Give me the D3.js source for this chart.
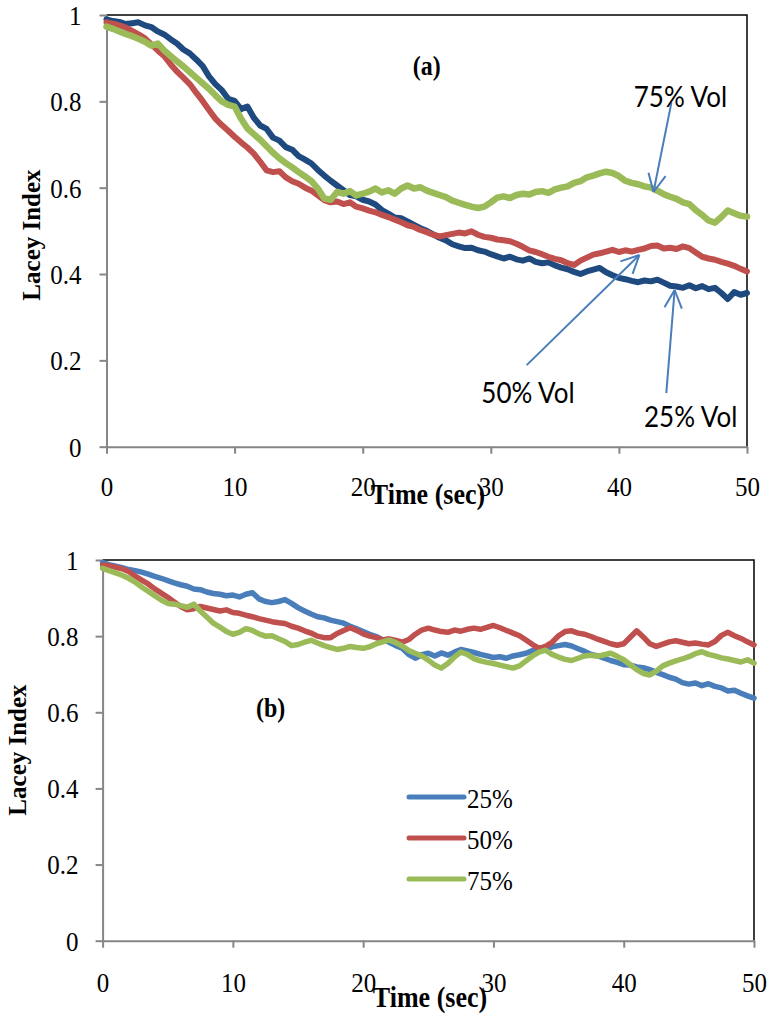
<!DOCTYPE html>
<html>
<head>
<meta charset="utf-8">
<script src="https://cdn.jsdelivr.net/npm/d3@7"></script>
<style>
body { margin: 0; background: #fff; }
</style>
</head>
<body>
<script>
// sample times, every 0.5 sec from 0 to 50
var times = d3.range(101).map(function(i){ return i * 0.5; });
var xTicks = [0, 10, 20, 30, 40, 50];
var yTicks = [0, 0.2, 0.4, 0.6, 0.8, 1];
var yTickLabels = ['0', '0.2', '0.4', '0.6', '0.8', '1'];
var seriesNames = ['25%', '50%', '75%'];

// panel (a)
var a25 = [0.990,0.986,0.984,0.979,0.981,0.983,0.976,0.972,0.962,0.955,0.944,0.934,0.920,0.911,0.897,0.882,0.858,0.840,0.826,0.806,
  0.801,0.782,0.788,0.762,0.744,0.736,0.716,0.709,0.694,0.688,0.673,0.665,0.656,0.641,0.628,0.616,0.605,0.594,0.583,0.580,
  0.572,0.568,0.561,0.548,0.540,0.531,0.529,0.522,0.514,0.506,0.500,0.492,0.484,0.478,0.469,0.464,0.460,0.461,0.455,0.452,
  0.446,0.441,0.436,0.440,0.434,0.431,0.436,0.428,0.425,0.427,0.420,0.415,0.411,0.405,0.400,0.406,0.410,0.414,0.404,0.397,
  0.391,0.388,0.384,0.381,0.385,0.383,0.387,0.380,0.373,0.371,0.368,0.374,0.367,0.372,0.365,0.368,0.356,0.342,0.358,0.352,0.356];
var a50 = [0.983,0.980,0.976,0.971,0.963,0.955,0.946,0.932,0.918,0.905,0.886,0.869,0.855,0.840,0.820,0.801,0.780,0.760,0.745,0.732,
  0.718,0.705,0.693,0.679,0.660,0.640,0.636,0.638,0.624,0.615,0.609,0.600,0.593,0.582,0.571,0.566,0.568,0.562,0.566,0.556,
  0.552,0.547,0.543,0.537,0.532,0.526,0.520,0.513,0.509,0.502,0.497,0.491,0.487,0.490,0.493,0.496,0.494,0.499,0.491,0.486,
  0.484,0.480,0.478,0.476,0.470,0.463,0.455,0.451,0.446,0.440,0.435,0.432,0.425,0.421,0.431,0.438,0.445,0.448,0.452,0.456,
  0.451,0.455,0.452,0.456,0.459,0.465,0.466,0.459,0.461,0.458,0.464,0.460,0.450,0.440,0.436,0.433,0.428,0.424,0.419,0.412,0.406];
var a75 = [0.973,0.968,0.962,0.956,0.951,0.945,0.938,0.929,0.934,0.918,0.905,0.893,0.881,0.868,0.855,0.842,0.829,0.814,0.800,0.792,
  0.788,0.760,0.737,0.724,0.711,0.696,0.681,0.668,0.657,0.647,0.636,0.626,0.615,0.598,0.575,0.572,0.590,0.586,0.592,0.582,
  0.586,0.591,0.598,0.589,0.594,0.586,0.598,0.605,0.598,0.601,0.593,0.588,0.583,0.578,0.570,0.565,0.560,0.556,0.553,0.556,
  0.566,0.577,0.580,0.576,0.583,0.586,0.584,0.590,0.592,0.588,0.596,0.600,0.603,0.611,0.615,0.624,0.628,0.633,0.637,0.634,
  0.627,0.616,0.611,0.608,0.603,0.600,0.593,0.585,0.579,0.574,0.566,0.562,0.548,0.537,0.524,0.519,0.532,0.547,0.541,0.535,0.533];

// panel (b)
var b25 = [0.993,0.988,0.984,0.980,0.975,0.972,0.968,0.963,0.957,0.952,0.946,0.940,0.935,0.931,0.924,0.922,0.916,0.912,0.910,0.906,
  0.908,0.903,0.910,0.914,0.898,0.891,0.888,0.891,0.896,0.886,0.875,0.866,0.858,0.851,0.848,0.842,0.838,0.834,0.826,0.819,
  0.812,0.805,0.799,0.790,0.784,0.775,0.768,0.752,0.742,0.751,0.755,0.748,0.756,0.750,0.758,0.765,0.761,0.757,0.752,0.748,
  0.744,0.746,0.742,0.748,0.751,0.755,0.762,0.768,0.766,0.772,0.775,0.778,0.774,0.767,0.760,0.752,0.748,0.742,0.736,0.731,
  0.725,0.724,0.719,0.717,0.712,0.705,0.699,0.692,0.687,0.678,0.674,0.677,0.670,0.675,0.668,0.664,0.656,0.658,0.650,0.643,0.637];
var b50 = [0.987,0.985,0.981,0.977,0.970,0.958,0.947,0.937,0.924,0.913,0.902,0.890,0.878,0.869,0.872,0.878,0.874,0.870,0.866,0.869,
  0.862,0.860,0.855,0.851,0.846,0.842,0.838,0.835,0.833,0.826,0.821,0.814,0.808,0.800,0.796,0.796,0.807,0.815,0.822,0.815,
  0.806,0.800,0.796,0.790,0.793,0.789,0.784,0.791,0.805,0.816,0.821,0.816,0.812,0.810,0.816,0.813,0.818,0.821,0.818,0.823,
  0.828,0.822,0.815,0.808,0.801,0.790,0.778,0.768,0.773,0.784,0.801,0.812,0.814,0.808,0.805,0.799,0.792,0.786,0.780,0.776,
  0.780,0.797,0.814,0.798,0.780,0.773,0.779,0.785,0.788,0.784,0.780,0.782,0.779,0.777,0.786,0.802,0.810,0.801,0.794,0.785,0.777];
var b75 = [0.978,0.972,0.966,0.960,0.952,0.942,0.929,0.918,0.906,0.895,0.886,0.884,0.880,0.876,0.884,0.866,0.850,0.834,0.824,0.812,
  0.805,0.810,0.820,0.815,0.806,0.800,0.801,0.793,0.786,0.775,0.778,0.784,0.789,0.782,0.775,0.770,0.765,0.768,0.773,0.770,
  0.768,0.772,0.780,0.785,0.790,0.783,0.774,0.762,0.755,0.748,0.737,0.724,0.716,0.728,0.745,0.758,0.752,0.741,0.735,0.731,
  0.728,0.724,0.720,0.716,0.722,0.735,0.748,0.758,0.763,0.752,0.745,0.739,0.736,0.742,0.748,0.750,0.747,0.751,0.755,0.747,
  0.738,0.725,0.712,0.702,0.698,0.708,0.722,0.729,0.735,0.740,0.746,0.754,0.759,0.752,0.748,0.743,0.740,0.736,0.732,0.738,0.729];

// arrow annotations on panel (a): [label, label t, label v, tail t, tail v, tip t, tip v]
var volNotes = [
  ['75% Vol', 44.8, 0.787, 44.1, 0.797, 42.7, 0.590],
  ['50% Vol', 32.9, 0.102, 32.8, 0.189, 41.6, 0.444],
  ['25% Vol', 45.6, 0.045, 43.7, 0.124, 44.35, 0.363]
];

var serif = '"Liberation Serif", "Times New Roman", serif';
var sans = 'Lato, "Liberation Sans", sans-serif';
var axisGray = '#868686';
var svg = d3.select('body').append('svg').attr('width', 769).attr('height', 1019)
  .style('font-family', serif);

function drawPanel(cfg) {
  var x = d3.scaleLinear().domain([0, 50]).range([cfg.left, cfg.right]);
  var y = d3.scaleLinear().domain([0, 1]).range([cfg.bottom, cfg.top]);
  var g = svg.append('g');

  // top and right frame
  g.append('path')
    .attr('d', 'M' + cfg.left + ',' + cfg.top + 'H' + cfg.right + 'V' + cfg.bottom)
    .attr('fill', 'none').attr('stroke', '#000').attr('stroke-width', 1.5);

  var yAxisG = g.append('g').attr('transform', 'translate(' + cfg.left + ',0)')
    .call(d3.axisLeft(y).tickValues(yTicks).tickSize(7).tickSizeOuter(0).tickPadding(cfg.yPad)
      .tickFormat(function(d, i){ return yTickLabels[i]; }));
  var xAxisG = g.append('g').attr('transform', 'translate(0,' + cfg.bottom + ')')
    .call(d3.axisBottom(x).tickValues(xTicks).tickSize(7).tickSizeOuter(0));
  [yAxisG, xAxisG].forEach(function(a){
    a.attr('font-family', null).attr('font-size', null);
    a.select('.domain').attr('stroke', axisGray).attr('stroke-width', 2);
    a.selectAll('.tick line').attr('stroke', axisGray).attr('stroke-width', 2);
    a.selectAll('text').style('font-family', serif).attr('font-size', 25).attr('fill', '#000');
  });
  yAxisG.selectAll('text').attr('dy', '0.34em');
  xAxisG.selectAll('text').attr('dy', null).attr('y', cfg.xLabelY);

  var line = d3.line()
    .x(function(d, i){ return x(times[i]); })
    .y(function(d){ return y(d); });
  cfg.series.forEach(function(s, i){
    g.append('path').datum(s)
      .attr('d', line)
      .attr('fill', 'none')
      .attr('stroke', cfg.colors[i])
      .attr('stroke-width', cfg.widths[i])
      .attr('stroke-linejoin', 'round')
      .attr('stroke-linecap', 'round');
  });

  g.append('text').attr('x', x(cfg.tag[1])).attr('y', y(cfg.tag[2]))
    .attr('text-anchor', 'middle').attr('font-weight', 'bold').attr('font-size', 24)
    .text(cfg.tag[0]);

  g.append('text').attr('x', cfg.xTitle[0]).attr('y', cfg.xTitle[1])
    .attr('text-anchor', 'middle').attr('font-weight', 'bold').attr('font-size', 26)
    .text('Time (sec)');
  g.append('text').classed('rot', true)
    .attr('transform', 'translate(' + cfg.yTitle[0] + ',' + cfg.yTitle[1] + ') rotate(-90)')
    .attr('text-anchor', 'middle').attr('font-weight', 'bold').attr('font-size', 25)
    .text('Lacey Index');

  return {x: x, y: y, g: g};
}

var panelA = drawPanel({
  left: 106.5, right: 747, top: 15, bottom: 446.7,
  yPad: 18, xLabelY: 49,
  series: [a25, a50, a75],
  colors: ['#1f4a7f', '#c0504d', '#9bbb59'],
  widths: [6, 6, 6.5],
  tag: ['(a)', 25, 0.861],
  xTitle: [428, 504], yTitle: [40, 235]
});

var panelB = drawPanel({
  left: 102.6, right: 754, top: 560, bottom: 940.7,
  yPad: 17, xLabelY: 51,
  series: [b25, b50, b75],
  colors: ['#4a7ebb', '#c0504d', '#9bbb59'],
  widths: [5.5, 5.5, 5.5],
  tag: ['(b)', 12.9, 0.588],
  xTitle: [430, 1007], yTitle: [26, 750]
});

// arrows + labels on panel (a)
var arrowColor = '#4a7ebb';
volNotes.forEach(function(n){
  var x = panelA.x, y = panelA.y, g = panelA.g;
  var x0 = x(n[3]), y0 = y(n[4]), x1 = x(n[5]), y1 = y(n[6]);
  g.append('line').attr('x1', x0).attr('y1', y0).attr('x2', x1).attr('y2', y1)
    .attr('stroke', arrowColor).attr('stroke-width', 2);
  var ang = Math.atan2(y0 - y1, x0 - x1);
  [-0.45, 0.45].forEach(function(da){
    g.append('line').attr('x1', x1).attr('y1', y1)
      .attr('x2', x1 + 20 * Math.cos(ang + da)).attr('y2', y1 + 20 * Math.sin(ang + da))
      .attr('stroke', arrowColor).attr('stroke-width', 2);
  });
  g.append('text').attr('x', x(n[1])).attr('y', y(n[2]))
    .attr('text-anchor', 'middle')
    .style('font-family', sans).attr('font-size', 26)
    .text(n[0]);
});

// legend on panel (b)
var legendColors = ['#4a7ebb', '#c0504d', '#9bbb59'];
var legend = panelB.g.append('g').attr('transform', 'translate(409,797)');
seriesNames.forEach(function(name, i){
  var row = legend.append('g').attr('transform', 'translate(0,' + (i * 41) + ')');
  row.append('line').attr('x1', 0).attr('x2', 55).attr('y1', 0).attr('y2', 0)
    .attr('stroke', legendColors[i]).attr('stroke-width', 5).attr('stroke-linecap', 'round');
  row.append('text').attr('x', 58).attr('y', 11).attr('font-size', 25).text(name);
});

// the source figure's lettering is slightly stretched vertically
svg.selectAll('text:not(.rot)').each(function(){
  var t = d3.select(this);
  var tx = +t.attr('x') || 0, ty = +t.attr('y') || 0;
  t.attr('x', null).attr('y', null)
    .attr('transform', 'translate(' + tx + ',' + ty + ') scale(1,1.1)');
});
</script>
</body>
</html>
